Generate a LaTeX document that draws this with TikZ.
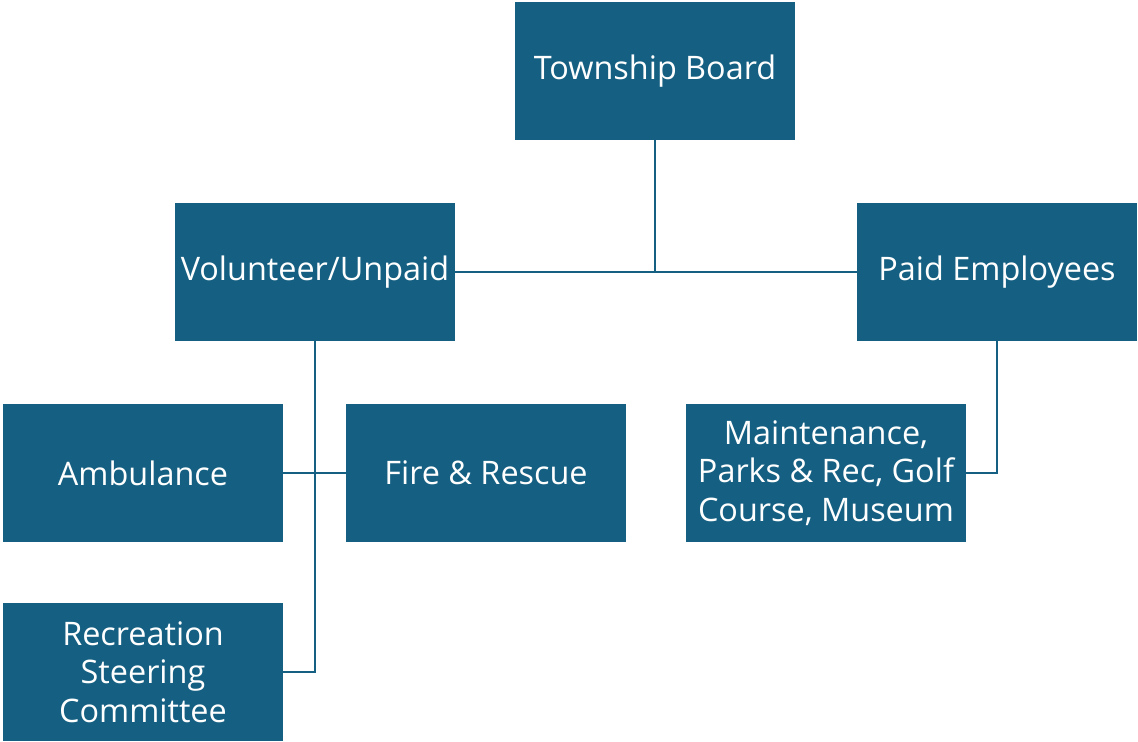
\documentclass[tikz,border=0pt]{standalone}
\usepackage{fontspec}
\setmainfont{Open Sans}
\definecolor{boxblue}{HTML}{156082}
\begin{document}
\begin{tikzpicture}[x=0.75pt,y=-0.75pt,
  orgbox/.style={draw=none,fill=boxblue,text=white,minimum width=210pt,minimum height=103.5pt,
    inner sep=0pt,align=center,font=\fontsize{24.3}{29}\selectfont},
  conn/.style={draw=boxblue,line width=1.5pt}]
\useasboundingbox (0,0) rectangle (1138,742);
\node[orgbox] (tb) at (655,71) {Township Board};
\node[orgbox] (vol) at (315,272) {Volunteer/Unpaid};
\node[orgbox] (paid) at (997,272) {Paid Employees};
\node[orgbox] (amb) at (143,473) {Ambulance};
\node[orgbox] (fire) at (486,473) {Fire \& Rescue};
\node[orgbox] (mnt) at (826,473) {Maintenance,\\Parks \& Rec, Golf\\Course, Museum};
\node[orgbox] (rec) at (143,672) {Recreation\\Steering\\Committee};
\draw[conn] (vol.east) -- (paid.west);
\draw[conn] (tb.south) -- (tb.south |- vol.east);
\draw[conn] (amb.east) -- (fire.west);
\draw[conn] (vol.south) |- (rec.east);
\draw[conn] (paid.south) |- (mnt.east);
\end{tikzpicture}
\end{document}
